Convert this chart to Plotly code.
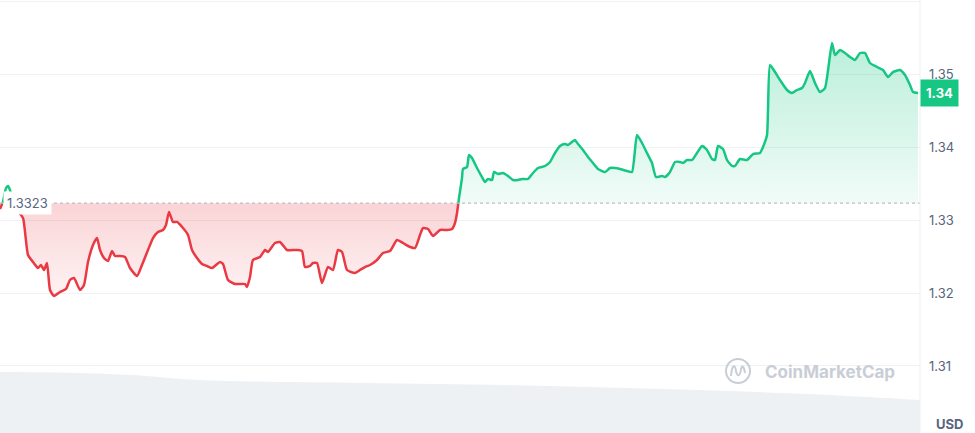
import plotly.graph_objects as go

# ---- data ----
ref_price = 1.3323
last_label = "1.34"

t = [0, 3, 6, 8, 10, 13, 17, 23, 28, 33, 38, 41, 44, 47, 50, 54, 60, 66, 70, 74, 80, 84, 88, 93, 97,
     100, 104, 108, 112, 115, 120, 125, 130, 137, 142, 148, 153, 158, 163, 166, 169, 173, 177, 183, 188,
     192, 197, 202, 207, 212, 216, 220, 223, 228, 235, 240, 245, 247, 250, 253, 260, 265, 268, 275, 280,
     287, 297, 302, 305, 310, 313, 317, 322, 328, 333, 338, 342, 347, 355, 360, 365, 370, 377, 383, 390,
     397, 403, 408, 415, 420, 423, 428, 433, 440, 447, 452, 455, 457, 459, 462, 463, 467, 469, 472, 477,
     482, 485, 488, 492, 494, 498, 503, 508, 513, 518, 522, 528, 533, 538, 545, 550, 555, 560, 565, 568,
     572, 575, 578, 583, 588, 593, 598, 605, 610, 615, 620, 627, 632, 637, 642, 647, 652, 656, 662, 665,
     670, 675, 680, 683, 687, 692, 697, 702, 707, 712, 715, 718, 723, 727, 732, 735, 740, 747, 753, 760,
     763, 767, 768, 770, 775, 780, 787, 792, 797, 802, 805, 810, 815, 820, 825, 832, 835, 840, 845, 850,
     855, 860, 865, 870, 877, 883, 888, 893, 900, 905, 910, 913, 918]

price = [1.33151, 1.33250, 1.33438, 1.33466, 1.33411, 1.33274, 1.33137, 1.33027, 1.32521, 1.32425,
         1.32342, 1.32384, 1.32315, 1.32411, 1.32041, 1.31959, 1.32014, 1.32055, 1.32178, 1.32205,
         1.32041, 1.32110, 1.32425, 1.32658, 1.32753, 1.32589, 1.32479, 1.32438, 1.32575, 1.32507,
         1.32507, 1.32493, 1.32342, 1.32233, 1.32384, 1.32589, 1.32753, 1.32836, 1.32863, 1.32932,
         1.33110, 1.32973, 1.32973, 1.32890, 1.32795, 1.32589, 1.32479, 1.32397, 1.32370, 1.32342,
         1.32384, 1.32425, 1.32397, 1.32178, 1.32123, 1.32123, 1.32123, 1.32082, 1.32219, 1.32452,
         1.32493, 1.32589, 1.32562, 1.32685, 1.32699, 1.32589, 1.32589, 1.32575, 1.32356, 1.32370,
         1.32411, 1.32411, 1.32137, 1.32356, 1.32315, 1.32589, 1.32562, 1.32315, 1.32274, 1.32315,
         1.32356, 1.32384, 1.32452, 1.32548, 1.32575, 1.32726, 1.32685, 1.32644, 1.32616, 1.32795,
         1.32890, 1.32877, 1.32781, 1.32863, 1.32863, 1.32877, 1.32959, 1.33096, 1.33301, 1.33575,
         1.33699, 1.33726, 1.33890, 1.33849, 1.33712, 1.33589, 1.33521, 1.33562, 1.33548, 1.33658,
         1.33630, 1.33644, 1.33603, 1.33548, 1.33548, 1.33562, 1.33562, 1.33644, 1.33712, 1.33740,
         1.33795, 1.33918, 1.34014, 1.34041, 1.34027, 1.34068, 1.34096, 1.34041, 1.33959, 1.33863,
         1.33781, 1.33699, 1.33658, 1.33712, 1.33712, 1.33699, 1.33671, 1.33658, 1.34164, 1.34055,
         1.33918, 1.33781, 1.33589, 1.33603, 1.33589, 1.33658, 1.33795, 1.33795, 1.33781, 1.33822,
         1.33822, 1.33918, 1.34014, 1.33959, 1.33836, 1.33822, 1.34014, 1.33973, 1.33822, 1.33740,
         1.33740, 1.33836, 1.33822, 1.33904, 1.33918, 1.34000, 1.34164, 1.34507, 1.35123, 1.35027,
         1.34918, 1.34781, 1.34740, 1.34781, 1.34808, 1.34877, 1.35041, 1.34877, 1.34753, 1.34808,
         1.35425, 1.35260, 1.35329, 1.35288, 1.35233, 1.35192, 1.35288, 1.35288, 1.35151, 1.35096,
         1.35055, 1.34959, 1.35027, 1.35055, 1.34986, 1.34849, 1.34753, 1.34740]

vol_t = [0, 60, 133, 200, 367, 550, 700, 830, 920]
volume = [56.4, 56.0, 53.6, 48.9, 46.2, 43.5, 39.7, 35.1, 30.5]

tick_vals = [1.31, 1.32, 1.33, 1.34, 1.35, 1.36]
tick_text = ["1.31", "1.32", "1.33", "1.34", "1.35", ""]

GREEN = "#16c784"
RED = "#ea3943"
GRID = "#eff2f5"
LABEL = "#58667e"

# ---- split the series into above / below reference segments ----
segments = []
cur_t, cur_p = [t[0]], [price[0]]
above = price[0] >= ref_price
for i in range(1, len(t)):
    now_above = price[i] >= ref_price
    if now_above != above:
        tc = t[i - 1] + (ref_price - price[i - 1]) * (t[i] - t[i - 1]) / (price[i] - price[i - 1])
        cur_t.append(tc)
        cur_p.append(ref_price)
        segments.append((above, cur_t, cur_p))
        cur_t, cur_p = [tc], [ref_price]
        above = now_above
    cur_t.append(t[i])
    cur_p.append(price[i])
segments.append((above, cur_t, cur_p))

fig = go.Figure()

# volume area (background)
fig.add_trace(go.Scatter(
    x=vol_t, y=volume, yaxis="y2", mode="lines", line=dict(width=0, shape="spline"),
    fill="tozeroy", fillcolor="#eef1f4", hoverinfo="skip", showlegend=False))

for is_up, st, sp in segments:
    col = GREEN if is_up else RED
    fig.add_trace(go.Scatter(
        x=st, y=[ref_price] * len(st), mode="lines", line=dict(width=0),
        hoverinfo="skip", showlegend=False))
    if is_up:
        grad = dict(type="vertical", start=ref_price, stop=1.355,
                    colorscale=[[0, "rgba(22,199,132,0.06)"], [1, "rgba(22,199,132,0.30)"]])
    else:
        grad = dict(type="vertical", start=ref_price, stop=1.318,
                    colorscale=[[0, "rgba(234,57,67,0.22)"], [1, "rgba(234,57,67,0.04)"]])
    fig.add_trace(go.Scatter(
        x=st, y=sp, mode="lines",
        line=dict(color=col, width=2.5, shape="spline", smoothing=0.5),
        fill="tonexty", fillgradient=grad, hoverinfo="skip", showlegend=False))

W, H = 975, 433
PW = 920  # plot width in px

shapes = [
    dict(type="line", xref="paper", yref="y", x0=0, x1=1, y0=ref_price, y1=ref_price,
         line=dict(color="#b8bfca", width=1.2, dash="dot"), layer="above"),
    dict(type="line", xref="paper", yref="paper", x0=1, x1=1, y0=0, y1=1,
         line=dict(color="#eceff3", width=1)),
    dict(type="circle", xref="paper", yref="paper", xsizemode="pixel", ysizemode="pixel",
         xanchor=738 / PW, yanchor=(H - 371) / H, x0=-12, x1=12, y0=-12, y1=12,
         line=dict(color="#c9ced6", width=2)),
    dict(type="path", xref="paper", yref="paper", xsizemode="pixel", ysizemode="pixel",
         xanchor=738 / PW, yanchor=(H - 371) / H,
         path="M -7 -5 C -6 7, -3 7, -2 0 C -1 -6, 2 -6, 3 2 C 4 6, 6 5, 7 -2",
         line=dict(color="#c9ced6", width=2)),
]

annotations = [
    dict(xref="paper", yref="y", x=3 / PW, y=ref_price, xanchor="left", yanchor="middle",
         text="1.3323", showarrow=False, bgcolor="white", borderpad=3,
         font=dict(family="Inter", size=13, color=LABEL)),
    dict(xref="paper", yref="y", x=1, y=price[-1], xanchor="left", yanchor="middle",
         text="<b>" + last_label + "</b>", showarrow=False, bgcolor=GREEN, borderpad=5,
         font=dict(family="Inter", size=13, color="white")),
    dict(xref="paper", yref="paper", x=763 / PW, y=(H - 372) / H, xanchor="left", yanchor="middle",
         text="<b>CoinMarketCap</b>", showarrow=False,
         font=dict(family="Inter", size=17, color="#c9ced6")),
    dict(xref="paper", yref="paper", x=950 / PW, y=(H - 424) / H, xanchor="center", yanchor="middle",
         text="<b>USD</b>", showarrow=False,
         font=dict(family="Inter", size=13, color=LABEL)),
]

fig.update_layout(
    width=W, height=H,
    margin=dict(l=0, r=W - PW, t=0, b=0),
    paper_bgcolor="white", plot_bgcolor="white",
    showlegend=False,
    xaxis=dict(range=[0, 920], visible=False, showgrid=False, zeroline=False),
    yaxis=dict(range=[1.30082, 1.36014], side="right", tickvals=tick_vals, ticktext=tick_text,
               showgrid=True, gridcolor=GRID, gridwidth=1, zeroline=False, showline=False,
               ticks="", ticklabelstandoff=8,
               tickfont=dict(family="Inter", size=13, color=LABEL)),
    yaxis2=dict(range=[0, 400], overlaying="y", visible=False, showgrid=False),
    shapes=shapes,
    annotations=annotations,
)

fig.write_html("out.html",
               config={"displayModeBar": False},
               post_script="document.body.style.margin='0';document.body.style.overflow='hidden';")
